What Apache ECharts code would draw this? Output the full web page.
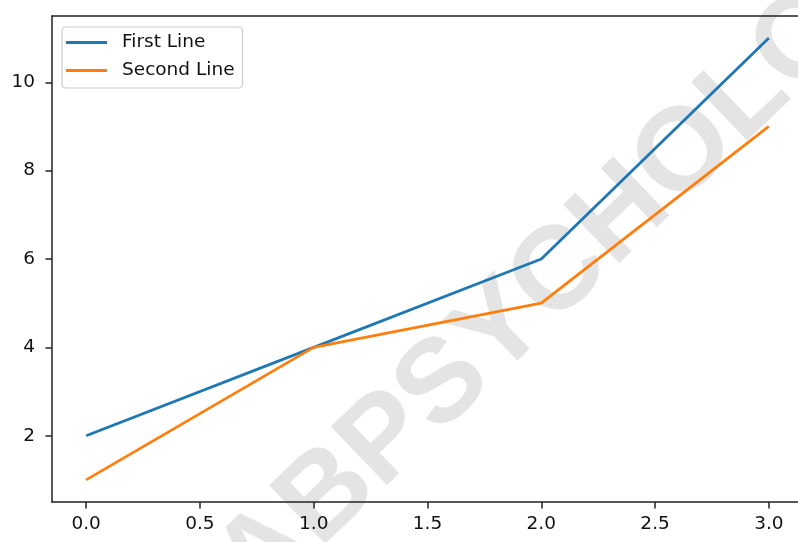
<!DOCTYPE html>
<html>
<head>
<meta charset="utf-8">
<script src="https://cdn.jsdelivr.net/npm/echarts@6/dist/echarts.min.js"></script>
<style>
html,body{margin:0;padding:0;background:#fff;}
#chart{width:798px;height:542px;}
</style>
</head>
<body>
<div id="chart"></div>
<script>
// ---- data ----
const xValues = [0, 1, 2, 3];
const firstLine = [2, 4, 6, 11];
const secondLine = [1, 4, 5, 9];
const seriesNames = ['First Line', 'Second Line'];
const xTickValues = [0, 0.5, 1, 1.5, 2, 2.5, 3];
const xTickLabels = ['0.0', '0.5', '1.0', '1.5', '2.0', '2.5', '3.0'];
const yTickValues = [2, 4, 6, 8, 10];
const yTickLabels = ['2', '4', '6', '8', '10'];
const watermarkText = 'LABPSYCHOLOGY';

const FONT = '"DejaVu Sans", sans-serif';
const AX = '#222222';
const COLORS = ['#1f77b4', '#ff7f0e'];

const chart = echarts.init(document.getElementById('chart'), null, {renderer: 'canvas'});

function pairs(xs, ys) { return xs.map((x, i) => [x, ys[i]]); }

const option = {
  animation: false,
  backgroundColor: '#ffffff',
  grid: {
    left: 52, top: 16, width: 751, height: 486,
    outerBoundsMode: 'none', containLabel: false,
    show: false
  },
  graphic: [{
    type: 'text',
    x: 572, y: 263,
    rotation: 43.7 * Math.PI / 180,
    z: -10,
    silent: true,
    style: {
      text: watermarkText,
      font: 'bold 118px "Liberation Sans"',
      fill: '#e4e4e4',
      textAlign: 'center',
      textVerticalAlign: 'middle'
    }
  }],
  legend: {
    orient: 'vertical',
    left: 62, top: 27,
    data: seriesNames.map(n => ({name: n, icon: 'rect'})),
    itemWidth: 41, itemHeight: 3, itemGap: 9,
    padding: [6, 8, 8, 4],
    backgroundColor: 'rgba(255,255,255,0.8)',
    borderColor: '#cccccc', borderWidth: 1.2, borderRadius: 4,
    textStyle: {fontFamily: FONT, fontSize: 18.5, lineHeight: 19, color: '#111', padding: [0, 0, 0, 10]}
  },
  xAxis: [{
    type: 'value', min: -0.15, max: 3.15,
    axisLine: {show: true, onZero: false, lineStyle: {color: AX, width: 1.5}},
    axisTick: {show: true, length: 6.5, customValues: xTickValues, lineStyle: {color: AX, width: 1.5}},
    axisLabel: {
      customValues: xTickValues, margin: 13,
      fontFamily: FONT, fontSize: 18.5, color: '#111',
      formatter: v => { const i = xTickValues.indexOf(v); return i >= 0 ? xTickLabels[i] : ''; }
    },
    splitLine: {show: false}
  }, {
    type: 'value', min: -0.15, max: 3.15, position: 'top',
    axisLine: {show: true, onZero: false, lineStyle: {color: AX, width: 1.5}},
    axisTick: {show: false}, axisLabel: {show: false}, splitLine: {show: false}
  }],
  yAxis: {
    type: 'value', min: 0.5, max: 11.5,
    axisLine: {show: true, onZero: false, lineStyle: {color: AX, width: 1.5}},
    axisTick: {show: true, length: 6.5, customValues: yTickValues, lineStyle: {color: AX, width: 1.5}},
    axisLabel: {
      customValues: yTickValues, margin: 17,
      fontFamily: FONT, fontSize: 18.5, color: '#111',
      formatter: v => { const i = yTickValues.indexOf(v); return i >= 0 ? yTickLabels[i] : ''; }
    },
    splitLine: {show: false}
  },
  series: [
    {name: seriesNames[0], type: 'line', xAxisIndex: 0, data: pairs(xValues, firstLine), symbol: 'none',
     color: COLORS[0], lineStyle: {color: COLORS[0], width: 2.8}, z: 3},
    {name: seriesNames[1], type: 'line', xAxisIndex: 0, data: pairs(xValues, secondLine), symbol: 'none',
     color: COLORS[1], lineStyle: {color: COLORS[1], width: 2.8}, z: 3}
  ]
};
chart.setOption(option);
</script>
</body>
</html>
